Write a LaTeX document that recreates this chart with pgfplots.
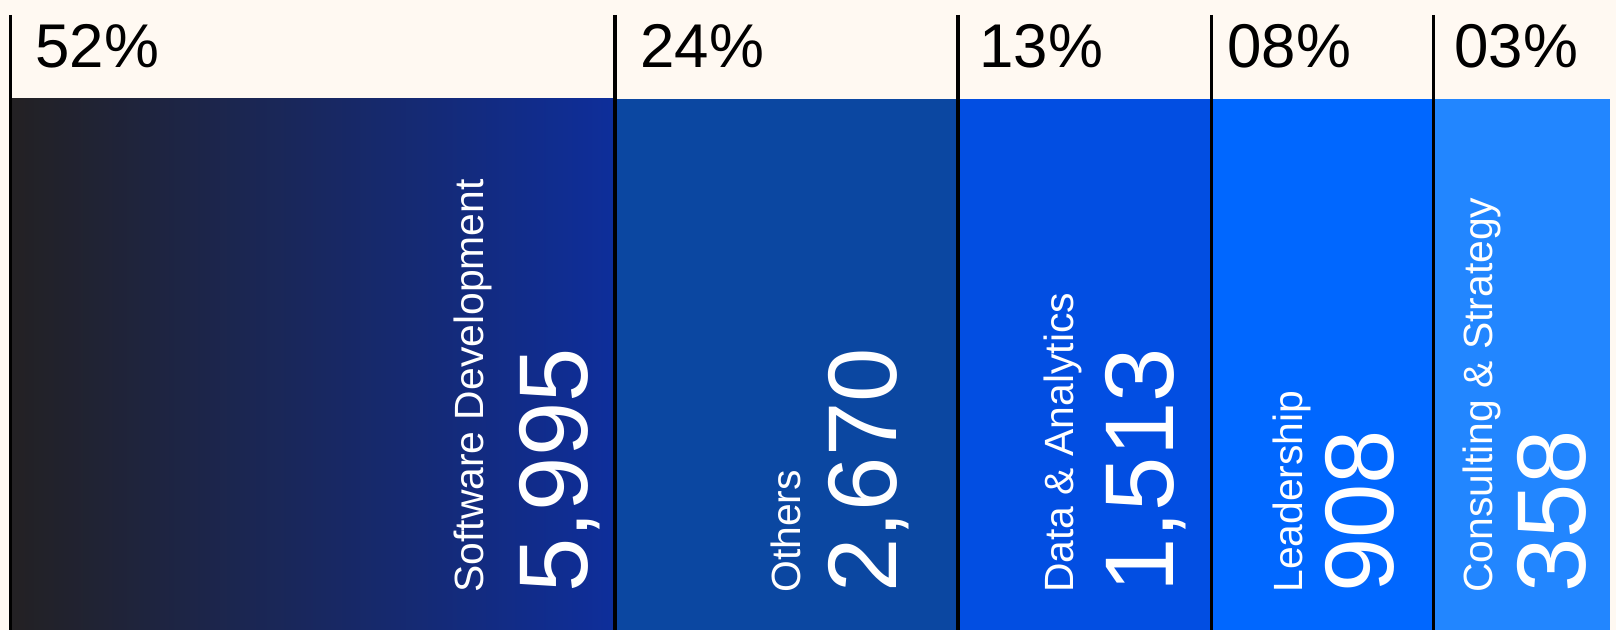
\documentclass[border=0pt]{standalone}
\usepackage{fontspec}
\setmainfont{Liberation Sans}
\usepackage{pgfplots}
\pgfplotsset{compat=1.18}
\usetikzlibrary{backgrounds}

\definecolor{cream}{HTML}{FFF9F2}
\definecolor{dark}{HTML}{232123}
\definecolor{c1}{HTML}{0E2E9B}
\definecolor{c2}{HTML}{0B47A1}
\definecolor{c3}{HTML}{024EE2}
\definecolor{c4}{HTML}{0067FF}
\definecolor{c5}{HTML}{2286FF}

% 1 px of the reference = 0.5bp; coordinates below are reference pixels
\newcommand{\pct}[2]{\node[anchor=base west, inner sep=0, font=\fontsize{31}{31}\selectfont] at (#1,68) {#2};}
\newcommand{\lab}[2]{\node[rotate=90, anchor=base west, inner sep=0, text=white, font=\fontsize{20.5}{20.5}\selectfont] at (#1,593) {#2};}
\newcommand{\num}[2]{\node[rotate=90, anchor=base west, inner sep=0, text=white, font=\fontsize{49}{49}\selectfont] at (#1,593) {#2};}

\begin{document}
\begin{tikzpicture}[show background rectangle, inner frame sep=0pt,
    background rectangle/.style={fill=cream, draw=none}]
\begin{axis}[
    scale only axis,
    width=808bp, height=315bp,
    xmin=0, xmax=1616, ymin=0, ymax=630,
    y dir=reverse,
    hide axis, clip=false,
    xbar stacked,
    bar width=531,
]
\path (axis cs:0,0) rectangle (axis cs:1616,630);
\coordinate (TL) at (axis cs:0,0);

% drawn widths of the blocks (px); first one is the left margin
\addplot[draw=none, fill=none, forget plot] coordinates {(10.5,364.5)};
\addplot[draw=none, left color=dark, right color=c1] coordinates {(604.5,364.5)};
\addplot[draw=none, fill=c2] coordinates {(343,364.5)};
\addplot[draw=none, fill=c3] coordinates {(253.5,364.5)};
\addplot[draw=none, fill=c4] coordinates {(222,364.5)};
\addplot[draw=none, fill=c5] coordinates {(176.5,364.5)};
\end{axis}

\begin{scope}[shift={(TL)}, x=0.5bp, y=-0.5bp]
\foreach \x in {10.5,615,958,1211.5,1433.5}
  \draw[line width=1.85bp, black] (\x,15) -- (\x,630);

\pct{35}{52\%}
\pct{640}{24\%}
\pct{979}{13\%}
\pct{1227}{08\%}
\pct{1454}{03\%}

\lab{483}{Software Development}
\num{587}{5,995}
\lab{800}{Others}
\num{896}{2,670}
\lab{1073}{Data \& Analytics}
\num{1173}{1,513}
\lab{1302}{Leadership}
\num{1393}{908}
\lab{1492}{Consulting \& Strategy}
\num{1585}{358}

\pgfresetboundingbox
\path[use as bounding box] (0,0) rectangle (1616,630);
\end{scope}
\end{tikzpicture}
\end{document}
